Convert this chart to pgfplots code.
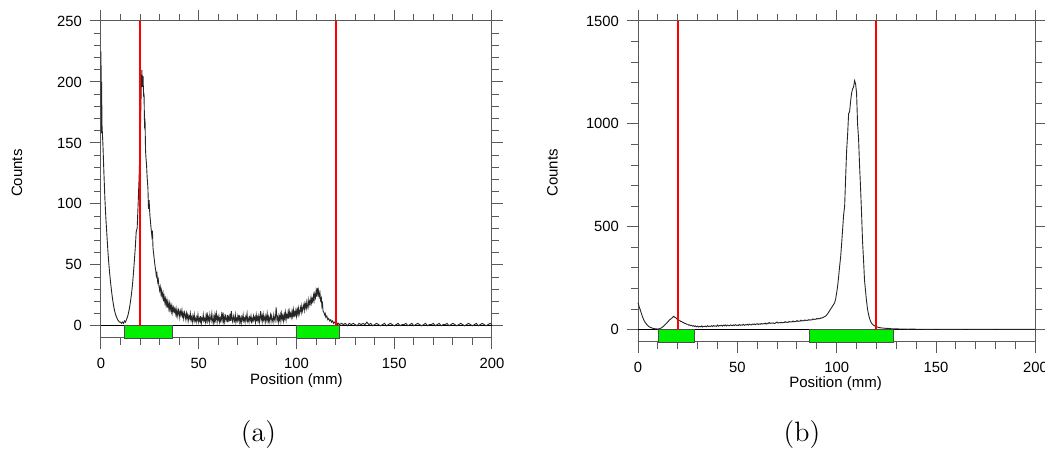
\documentclass[border=0pt]{standalone}
\usepackage{fontspec}
\usepackage{pgfplots}
\pgfplotsset{compat=1.18}
\newfontfamily\arial{Liberation Sans}
\definecolor{barg}{RGB}{0,240,0}
\definecolor{axg}{RGB}{90,90,90}
\definecolor{myred}{RGB}{255,0,0}
\begin{document}
\begin{tikzpicture}
\useasboundingbox (0,0) rectangle (522.5pt,227pt);
\pgfplotsset{
  myax/.style={
    scale only axis,
    anchor=south west,
    xmin=0, xmax=200,
    xtick={0,50,...,200},
    minor xtick={10,20,...,190},
    tick align=outside,
    major tick length=5.5pt,
    minor tick length=3.5pt,
    axis line style={axg, line width=0.5pt},
    every tick/.style={axg, line width=0.5pt},
    tick label style={font=\arial\fontsize{7.4}{8.8}\selectfont},
    /pgf/number format/assume math mode=true,
    /pgf/number format/1000 sep={},
    xlabel={Position (mm)},
    ylabel={Counts},
    xticklabel style={yshift=-1pt},
    yticklabel style={xshift=-0.5pt},
    clip=false,
  }
}
% ---------- (a) ----------
\begin{axis}[myax,
  at={(50.5pt,58pt)}, width=195.5pt, height=158.5pt,
  ymin=-10, ymax=250,
  ytick={0,50,...,250},
  minor ytick={10,20,...,240},
  every axis y label/.style={at={(axis description cs:-0.215,0.52)}, rotate=90, anchor=center, font=\arial\fontsize{7.5}{9}\selectfont},
  every axis x label/.style={at={(axis description cs:0.5,-0.136)}, anchor=center, font=\arial\fontsize{7.5}{9}\selectfont},
]
\addplot[draw=black, line width=0.5pt, mark=none] coordinates {(0,0) (200,0)};
\addplot[fill=barg, draw=black!70, line width=0.4pt, mark=none] coordinates {(12,-10) (36.7,-10) (36.7,0) (12,0) (12,-10)};
\addplot[fill=barg, draw=black!70, line width=0.4pt, mark=none] coordinates {(100,-10) (122,-10) (122,0) (100,0) (100,-10)};
\addplot[draw=black!85, line width=0.45pt, mark=none] coordinates {
(0,225)(0.15,158)(0.3,200)(0.5,165)(0.8,155)(1,148)(1.5,125)(2,104)(2.5,88)(3,75)(3.5,62)(4,51)(4.5,42)(5,34)(5.5,27)(6,21)(6.5,16)(7,12)(7.5,9)(8,7)(8.5,5)(9,4)(9.5,3)(10,3)(10.5,2)(11,3)(11.5,2)(12,4)(12.5,3)(13,5)(13.5,7)(14,10)(14.5,14)(15,19)(15.5,25)(16,32)(16.5,41)(17,52)(17.5,63)(18,77)(18.5,80)(19,100)(19.5,122)(20,150)(20.3,172)(20.6,195)(20.9,210)(21.2,196)(21.5,205)(21.8,188)(22,191)(22.3,162)(22.5,170)(22.8,143)(23,138)(23.3,132)(23.6,122)(24,113)(24.3,96)(24.6,103)(25,91)(25.5,82)(26,74)(26.3,78)(26.6,64)(27,58)(27.5,51)(28,45)(28.3,41)(28.6,43)(29,36)(29.3,38)(29.6,33)(30,29)(30.3,32)(30.7,26)(31,29)(31.3,24)(31.7,27)(32,20)(32.3,24)(32.7,19)(33,22)(33.3,17)(33.7,21)(34,15)(34.3,19)(34.7,14)(35,18)(35.3,13)(35.7,17)(36,12)(36.3,16)(36.7,11)(37,15)(37.4,12)(37.7,14)
(38,10)(38.4,14)(38.7,9)(39,12)(39.3,8)(39.7,13)(40,11)(40.3,7)(40.6,12)(41,9)(41.4,13)(41.7,8)(42,10)(42.3,6)(42.7,11)(43,9)(43.4,5)(43.7,10)(44,7)(44.3,9)(44.6,4)(45,8)(45.4,6)(45.7,10)(46,5)(46.3,7)(46.7,3)(47,8)(47.4,5)(47.7,9)(48,4)(48.3,6)(48.7,3)(49,7)(49.3,5)(49.6,9)(50,3)(50.4,6)(50.7,4)(51,8)(51.3,2)(51.7,6)(52,5)(52.3,9)(52.6,4)(53,6)(53.4,3)(53.7,8)(54,5)(54.3,11)(54.6,4)(55,7)(55.4,3)(55.7,9)(56,6)(56.3,4)(56.7,10)(57,5)(57.4,2)(57.7,7)(58,4)(58.3,9)(58.6,5)(59,10)(59.4,3)(59.7,7)(60,5)(60.3,8)(60.7,3)(61,6)(61.3,4)(61.7,9)(62,5)(62.4,11)(62.7,4)(63,7)(63.3,3)(63.7,8)(64,6)(64.4,4)(64.7,9)(65,3)(65.3,7)(65.7,5)(66,10)(66.3,4)(66.7,12)(67,5)(67.4,3)(67.7,8)(68,6)(68.3,4)(68.7,9)(69,3)(69.3,6)(69.7,4)(70,8)(70.4,5)(70.7,9)(71,3)(71.3,6)(71.7,2)(72,7)(72.3,5)(72.7,9)(73,4)(73.4,6)(73.7,3)(74,7)(74.3,5)(74.7,10)(75,4)(75.3,6)(75.7,3)(76,7)(76.4,5)(76.7,8)(77,2)(77.3,6)(77.7,4)(78,8)(78.3,5)(78.7,7)(79,3)(79.4,9)(79.7,5)(80,7)(80.3,4)(80.7,8)(81,3)(81.3,6)(81.7,12)(82,5)(82.4,8)(82.7,4)(83,9)(83.3,5)(83.7,7)(84,3)(84.3,8)(84.7,5)(85,10)(85.4,4)(85.7,7)(86,3)(86.3,6)(86.7,9)(87,4)(87.3,8)(87.7,5)(88,3)(88.4,9)(88.7,6)(89,4)(89.3,8)(89.6,15)(90,5)(90.3,7)(90.7,3)(91,8)(91.3,5)(91.7,9)(92,4)(92.4,10)(92.7,6)(93,8)(93.3,4)(93.7,9)(94,6)(94.3,11)(94.7,5)(95,9)(95.4,7)(95.7,11)(96,6)(96.3,12)(96.7,8)(97,10)(97.3,7)(97.7,12)(98,8)(98.4,13)(98.7,7)(99,11)(99.3,9)(99.7,13)(100,8)
(100.4,13)(100.7,10)(101,14)(101.3,9)(101.7,12)(102,15)(102.4,11)(102.7,16)(103,12)(103.3,14)(103.7,17)(104,13)(104.3,18)(104.7,15)(105,19)(105.3,14)(105.7,17)(106,21)(106.3,16)(106.7,20)(107,18)(107.4,23)(107.7,19)(108,22)(108.3,20)(108.7,25)(109,21)(109.3,26)(109.7,23)(110,28)(110.3,24)(110.6,31)(111,26)(111.3,29)(111.6,24)(112,27)(112.3,21)(112.7,23)(113,16)(113.3,18)(113.6,12)(114,11)(114.4,9)(114.7,10)(115,7)(115.5,8)(116,5)(116.5,6)(117,4)(117.5,5)(118,3)(118.5,4)(119,2)(119.5,3)(120,2)(120.5,3)(121,1)(121.5,2)(122,1)(123,2)(124,1)(125,2)(126,0)(127,2)(128,1)(129,2)(130,1)(131,0)(132,2)(133,1)(134,2)(135,1)(136,3)(137,1)(138,2)(139,0)(140,1)(141,2)(142,1)(143,0)(144,1)(145,2)(146,0)(147,1)(148,2)(149,1)(150,0)(151,1)(152,2)(153,0)(154,1)(155,1)(156,2)(157,0)(158,1)(159,2)(160,0)(161,1)(162,2)(163,1)(164,0)(165,1)(166,2)(167,0)(168,1)(169,1)(170,2)(171,0)(172,1)(173,2)(174,0)(175,1)(176,1)(177,2)(178,0)(179,1)(180,2)(181,1)(182,0)(183,1)(184,2)(185,1)(186,0)(187,1)(188,2)(189,1)(190,0)(191,1)(192,2)(193,0)(194,1)(195,2)(196,1)(197,0)(198,1)(199,2)(200,1)
};
\addplot[draw=myred, line width=1pt, mark=none] coordinates {(20,0) (20,250)};
\addplot[draw=myred, line width=1pt, mark=none] coordinates {(120,0) (120,250)};
\end{axis}
% ---------- (b) ----------
\begin{axis}[myax,
  at={(319pt,56pt)}, width=198.7pt, height=160.5pt,
  ymin=-60, ymax=1500,
  ytick={0,500,...,1500},
  minor ytick={100,200,...,1400},
  every axis y label/.style={at={(axis description cs:-0.215,0.527)}, rotate=90, anchor=center, font=\arial\fontsize{7.5}{9}\selectfont},
  every axis x label/.style={at={(axis description cs:0.497,-0.131)}, anchor=center, font=\arial\fontsize{7.5}{9}\selectfont},
]
\addplot[draw=black, line width=0.5pt, mark=none] coordinates {(0,0) (200,0)};
\addplot[fill=barg, draw=black!70, line width=0.4pt, mark=none] coordinates {(10.3,-60) (28.2,-60) (28.2,0) (10.3,0) (10.3,-60)};
\addplot[fill=barg, draw=black!70, line width=0.4pt, mark=none] coordinates {(86.1,-60) (128.5,-60) (128.5,0) (86.1,0) (86.1,-60)};
\addplot[draw=black!85, line width=0.45pt, mark=none] coordinates {
(0,130)(0.3,122)(0.6,110)(1,100)(1.5,85)(2,70)(2.5,57)(3,45)(3.5,37)(4,30)(4.5,24)(5,19)(5.5,15)(6,12)(7,8)(8,5)(9,4)(10,3)(10.5,4)(11,5)(11.5,7)(12,10)(12.5,14)(13,18)(13.5,23)(14,28)(14.5,33)(15,38)(15.5,43)(16,48)(16.5,52)(17,56)(17.5,61)(18,65)(18.5,60)(19,58)(19.5,52)(20,51)(20.5,46)(21,45)(21.5,40)(22,39)(22.5,35)(23,34)(23.5,30)(24,30)(24.5,26)(25,26)(25.5,22)(26,23)(26.5,19)(27,21)(27.5,17)(28,19)(28.5,15)(29,18)(29.5,14)(30,17)(30.5,13)(31,16)(31.5,14)(32,18)(32.5,13)(33,16)(33.5,15)(34,17)(34.5,14)(35,19)(35.5,15)(36,17)(36.5,16)(37,19)(37.5,15)(38,20)(38.5,17)(39,18)(39.5,16)(40,22)(40.5,17)(41,20)(41.5,19)(42,21)(42.5,17)(43,22)(43.5,19)(44,23)(44.5,18)(45,22)(45.5,20)(46,19)(46.5,23)(47,21)(47.5,19)(48,23)(48.5,20)(49,24)(49.5,21)(50,22)(50.5,20)(51,25)(51.5,21)(52,23)(52.5,22)(53,26)(53.5,21)(54,24)(54.5,23)(55,26)(55.5,22)(56,27)(56.5,24)(57,23)(57.5,27)(58,25)(58.5,28)(59,24)(59.5,27)(60,29)(60.5,25)(61,28)(61.5,26)(62,30)(62.5,27)(63,29)(63.5,28)(64,32)(64.5,27)(65,31)(65.5,29)(66,35)(66.5,30)(67,32)(67.5,31)(68,33)(68.5,30)(69,31)(69.5,34)(70,37)(70.5,32)(71,34)(71.5,33)(72,36)(72.5,33)(73,35)(73.5,34)(74,39)(74.5,35)(75,37)(75.5,35)(76,40)(76.5,37)(77,38)(77.5,37)(78,42)(78.5,38)(79,40)(79.5,39)(80,44)(80.5,40)(81,42)(81.5,41)(82,46)(82.5,42)(83,44)(83.5,43)(84,47)(84.5,44)(85,46)(85.5,45)(86,49)(86.5,46)(87,48)(87.5,47)(88,52)(88.5,49)(89,51)(89.5,50)(90,55)(90.5,52)(91,54)(91.5,53)(92,57)(92.5,56)(93,59)(93.5,61)(94,64)(94.5,66)(95,72)(95.5,78)(96,86)(96.5,93)(97,101)(97.5,108)(98,116)(98.5,123)(99,132)(99.5,150)(100,180)(100.5,215)(101,260)(101.5,310)(102,355)(102.5,420)(103,490)(103.5,560)(104,600)(104.5,740)(105,870)(105.5,950)(106,1050)(106.5,1060)(107,1110)(107.5,1150)(108,1170)(108.5,1180)(109,1210)(109.5,1195)(110,1150)(110.5,1000)(111,930)(111.5,800)(112,690)(112.5,570)(113,430)(113.5,340)(114,240)(114.5,190)(115,140)(115.5,100)(116,75)(116.5,55)(117,42)(117.5,32)(118,26)(118.5,22)(119,19)(119.5,16)(120,14)(121,11)(122,9)(123,8)(124,7)(125,6)(126,6)(127,5)(128,4)(130,4)(132,3)(134,3)(136,2)(138,3)(140,2)(143,2)(146,1)(150,2)(155,1)(160,1)(165,2)(170,1)(175,1)(180,2)(185,1)(190,1)(195,1)(200,1)
};
\addplot[draw=myred, line width=1pt, mark=none] coordinates {(20,0) (20,1500)};
\addplot[draw=myred, line width=1pt, mark=none] coordinates {(120,0) (120,1500)};
\end{axis}
\node[font=\fontsize{14}{16}\selectfont] at (129.25pt,9.5pt) {(a)};
\node[font=\fontsize{14}{16}\selectfont] at (401pt,9.5pt) {(b)};
\end{tikzpicture}
\end{document}
